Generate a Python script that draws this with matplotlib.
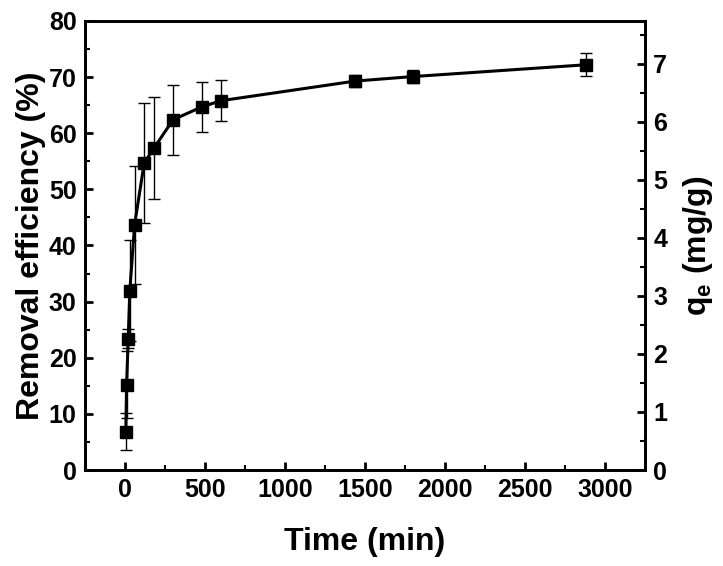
import matplotlib.pyplot as plt
from matplotlib.ticker import MultipleLocator

# Dados
tempo = [5, 10, 20, 30, 60, 120, 180, 300, 480, 600, 1440, 1800, 2880]
remocao = [6.8, 15.2, 23.4, 31.9, 43.7, 54.7, 57.3, 62.4, 64.7, 65.8, 69.3, 70.1, 72.2]
erro = [3.3, 6.0, 1.7, 9.0, 10.5, 10.7, 9.1, 6.2, 4.5, 3.7, 1.0, 1.2, 2.05]

plt.rcParams['font.family'] = ['Liberation Sans', 'DejaVu Sans']
plt.rcParams['font.weight'] = 'bold'

fig = plt.figure(figsize=(7.23, 5.66), dpi=100)
ax = fig.add_axes([85 / 723, 1 - 470 / 566, 560 / 723, 449 / 566])

ax.errorbar(tempo, remocao, yerr=erro, color='black', marker='s', markersize=8,
            linewidth=2.2, elinewidth=1, capsize=4, capthick=1, ecolor='black')

ax.set_xlim(-250, 3250)
ax.set_ylim(0, 80)
ax.xaxis.set_major_locator(MultipleLocator(500))
ax.xaxis.set_minor_locator(MultipleLocator(250))
ax.yaxis.set_major_locator(MultipleLocator(10))
ax.yaxis.set_minor_locator(MultipleLocator(5))
ax.set_xlabel('Time (min)', fontsize=23, fontweight='bold', labelpad=18)
ax.set_ylabel('Removal efficiency (%)', fontsize=23, fontweight='bold', labelpad=2)

# Eixo direito qe
ax2 = ax.twinx()
ax2.set_ylim(0, 7.74)
ax2.yaxis.set_major_locator(MultipleLocator(1))
ax2.yaxis.set_minor_locator(MultipleLocator(0.5))
ax2.set_ylabel('q$_\\mathregular{e}$ (mg/g)', fontsize=23, fontweight='bold', labelpad=10)

for a in (ax, ax2):
    for s in a.spines.values():
        s.set_linewidth(2)
    a.tick_params(which='major', direction='in', length=6, width=2, labelsize=18, pad=6)
    a.tick_params(which='minor', direction='in', length=3.5, width=1.5)
ax.tick_params(which='both', top=False, right=False)
for lab in ax.get_xticklabels() + ax.get_yticklabels() + ax2.get_yticklabels():
    lab.set_fontweight('bold')

plt.savefig('out.png', dpi=100)
